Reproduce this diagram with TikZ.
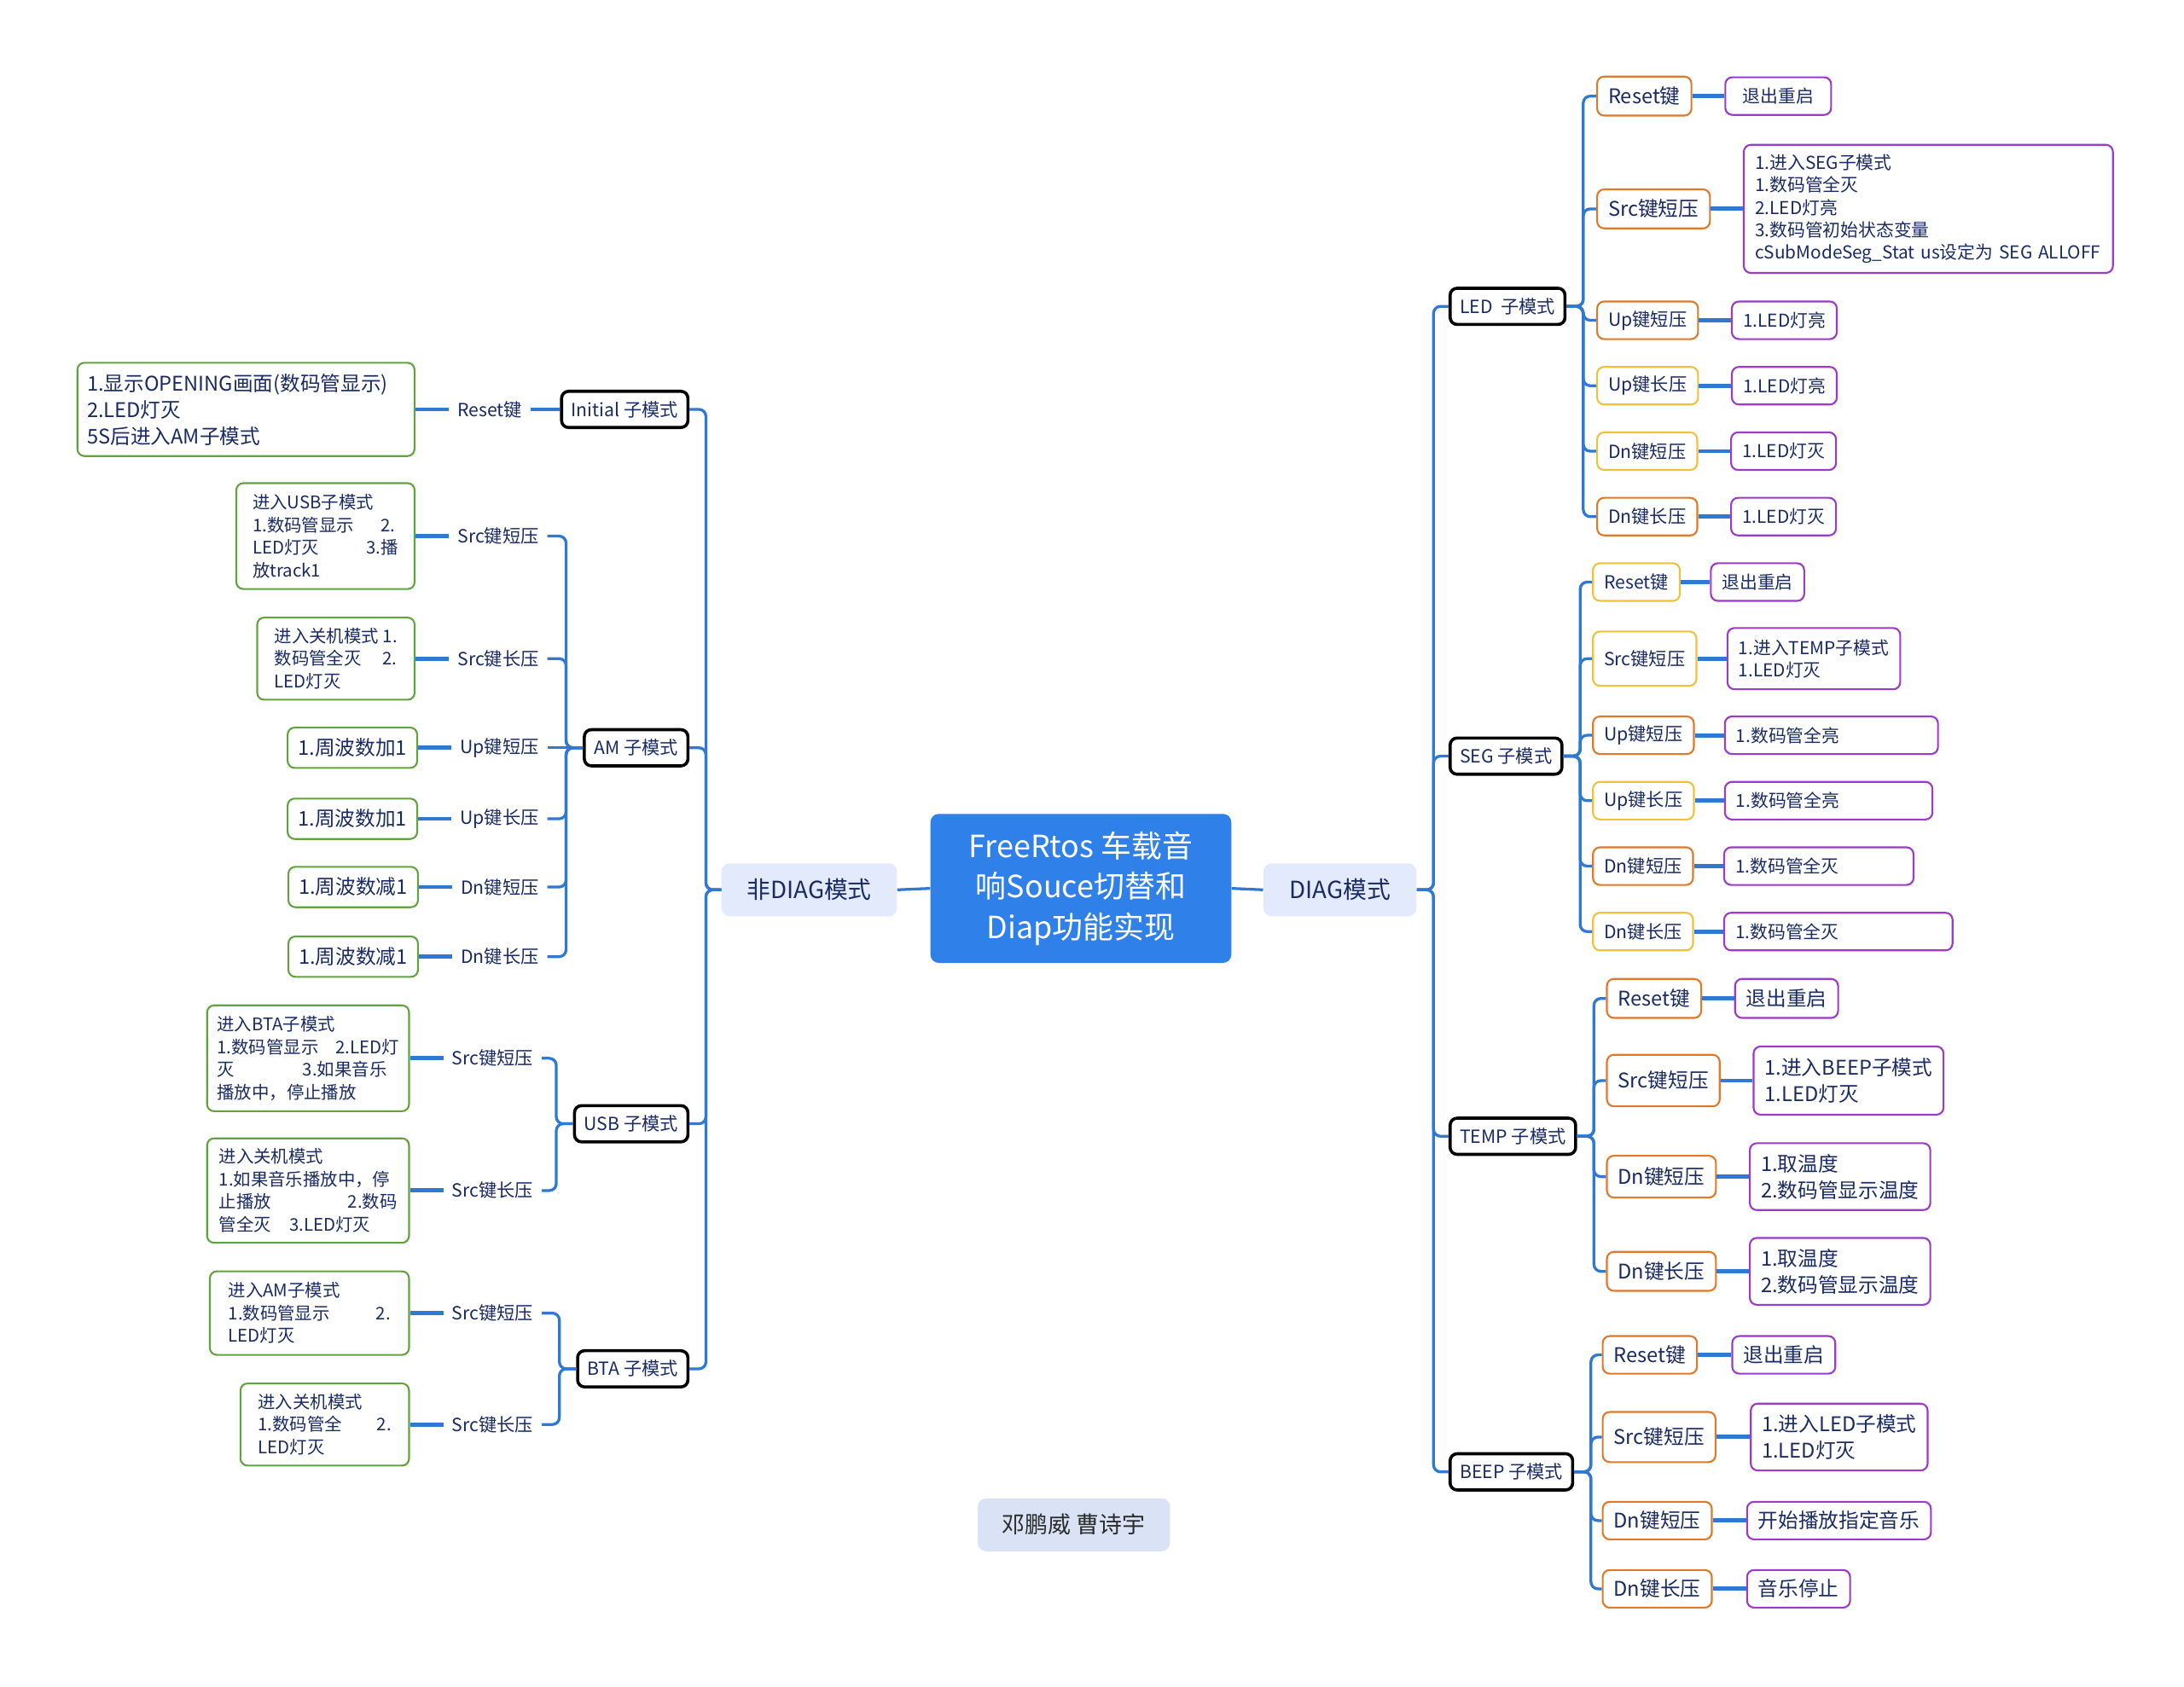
\documentclass[tikz,border=0pt]{standalone}
\usepackage{fontspec}
\setmainfont{Noto Sans CJK SC}
\usepackage{tikz}
\usetikzlibrary{positioning}
\definecolor{mmline}{HTML}{2F78D4}
\definecolor{mmroot}{HTML}{2F80E9}
\definecolor{mmmode}{HTML}{E2EAFB}
\definecolor{mmtext}{HTML}{1A2B63}
\definecolor{mmgreen}{HTML}{62A33F}
\definecolor{mmorange}{HTML}{E0792A}
\definecolor{mmyellow}{HTML}{F0C23B}
\definecolor{mmpurple}{HTML}{9C3BC9}
\definecolor{mmauth}{HTML}{D9E3F5}
\definecolor{mmgray}{HTML}{2B2B2B}
\newcommand{\fsz}[2]{\fontsize{#1}{#2}\selectfont}
\tikzset{
  lnk/.style={draw=mmline,line width=2pt,rounded corners=5pt},
  lnkk/.style={draw=mmline,line width=3pt},
}

\begin{document}
\begin{tikzpicture}[x=1pt,y=-1pt,
  root/.style={fill=mmroot,text=white,rounded corners=6pt,minimum width=216pt,minimum height=107pt,align=center,font=\fsz{22}{29}},
  mode/.style={fill=mmmode,text=mmtext,rounded corners=6pt,minimum height=38pt,font=\fsz{17}{20}},
  auth/.style={fill=mmauth,text=mmgray,rounded corners=6pt,minimum width=138pt,minimum height=38pt,font=\fsz{16.5}{20}},
  sub/.style={draw=black,line width=2.2pt,fill=white,rounded corners=5pt,inner xsep=7pt,minimum height=26pt,text=mmtext,font=\fsz{13}{16}},
  klab/.style={text=mmtext,inner xsep=6pt,inner ysep=2pt,font=\fsz{13}{16}},
  gbox/.style={draw=mmgreen,line width=1.3pt,fill=white,rounded corners=5pt,text=mmtext,align=left,inner xsep=7pt,inner ysep=4pt,font=\fsz{12.5}{16.3}},
  gbig/.style={font=\fsz{14.5}{19}},
  kbox/.style={draw=mmorange,line width=1.3pt,fill=white,rounded corners=5pt,text=mmtext,inner xsep=8pt,minimum height=27pt,font=\fsz{13}{16}},
  kboxy/.style={kbox,draw=mmyellow},
  pbox/.style={draw=mmpurple,line width=1.3pt,fill=white,rounded corners=5pt,text=mmtext,align=left,inner xsep=8pt,minimum height=27pt,font=\fsz{12.75}{16}},
  kb/.style={font=\fsz{14.5}{19}}]
  \fill[white] (0,0) rectangle (1568,1211);
  \useasboundingbox (0,0) rectangle (1568,1211);
  \node[root] (root) at (776,638) {FreeRtos 车载音\\响Souce切替和\\Diap功能实现};
  \node[mode,minimum width=110pt] (diag) at (962,639) {DIAG模式};
  \node[mode,minimum width=126pt] (ndiag) at (581,639) {非DIAG模式};
  \node[auth] (auth) at (771,1095) {邓鹏威 曹诗宇};

  \node[sub,anchor=west] (led) at (1040,220) {LED~~子模式};
  \node[sub,anchor=west] (seg) at (1040,543) {SEG 子模式};
  \node[sub,anchor=west] (temp) at (1040,816) {TEMP 子模式};
  \node[sub,anchor=west] (beep) at (1040,1057) {BEEP 子模式};
  \node[sub,anchor=east] (init) at (495,294) {Initial 子模式};
  \node[sub,anchor=east] (am) at (495,537) {AM 子模式};
  \node[sub,anchor=east] (usb) at (495,807) {USB 子模式};
  \node[sub,anchor=east] (bta) at (495,983) {BTA 子模式};

  \node[kbox,kb,anchor=west,minimum height=28pt] (l1) at (1146,69) {Reset键};
  \node[kbox,kb,anchor=west,minimum height=28pt] (l2) at (1146,150) {Src键短压};
  \node[kbox,anchor=west] (l3) at (1146,230) {Up键短压};
  \node[kboxy,anchor=west] (l4) at (1146,277) {Up键长压};
  \node[kboxy,anchor=west] (l5) at (1146,324) {Dn键短压};
  \node[kbox,anchor=west] (l6) at (1146,371) {Dn键长压};
  \node[pbox,right=23pt of l1,minimum width=76pt] (pl1) {退出重启};
  \node[pbox,right=23pt of l2,text width=249pt,minimum height=92pt] (pl2) {1.进入SEG子模式\\1.数码管全灭\\2.LED灯亮\\3.数码管初始状态变量\\cSubModeSeg\_Stat us设定为 SEG ALLOFF};
  \node[pbox,right=23pt of l3,minimum width=73pt] (pl3) {1.LED灯亮};
  \node[pbox,right=23pt of l4,minimum width=73pt] (pl4) {1.LED灯亮};
  \node[pbox,right=23pt of l5,minimum width=73pt] (pl5) {1.LED灯灭};
  \node[pbox,right=23pt of l6,minimum width=73pt] (pl6) {1.LED灯灭};

  \node[kboxy,anchor=west] (s1) at (1143,418) {Reset键};
  \node[kboxy,anchor=west,minimum height=39pt] (s2) at (1143,473) {Src键短压};
  \node[kbox,anchor=west] (s3) at (1143,528) {Up键短压};
  \node[kboxy,anchor=west] (s4) at (1143,575) {Up键长压};
  \node[kbox,anchor=west] (s5) at (1143,622) {Dn键短压};
  \node[kboxy,anchor=west] (s6) at (1143,669) {Dn键长压};
  \node[pbox,right=21pt of s1,minimum width=66pt] (ps1) {退出重启};
  \node[pbox,right=21pt of s2,text width=108pt,minimum height=44pt] (ps2) {1.进入TEMP子模式\\1.LED灯灭};
  \node[pbox,right=21pt of s3,text width=137pt] (ps3) {1.数码管全亮};
  \node[pbox,right=21pt of s4,text width=133pt] (ps4) {1.数码管全亮};
  \node[pbox,right=21pt of s5,text width=120pt] (ps5) {1.数码管全灭};
  \node[pbox,right=21pt of s6,text width=148pt] (ps6) {1.数码管全灭};

  \node[kbox,kb,anchor=west,minimum height=28pt] (t1) at (1153,717) {Reset键};
  \node[kbox,kb,anchor=west,minimum height=37pt] (t2) at (1153,776) {Src键短压};
  \node[kbox,kb,anchor=west,minimum height=30pt] (t3) at (1153,845) {Dn键短压};
  \node[kbox,kb,anchor=west,minimum height=28pt] (t4) at (1153,913) {Dn键长压};
  \node[pbox,kb,right=23pt of t1,minimum width=73pt,minimum height=28pt] (pt1) {退出重启};
  \node[pbox,kb,right=23pt of t2,minimum width=133pt,minimum height=49pt] (pt2) {1.进入BEEP子模式\\1.LED灯灭};
  \node[pbox,kb,right=23pt of t3,minimum width=127pt,minimum height=48pt] (pt3) {1.取温度\\2.数码管显示温度};
  \node[pbox,kb,right=23pt of t4,minimum width=127pt,minimum height=48pt] (pt4) {1.取温度\\2.数码管显示温度};

  \node[kbox,kb,anchor=west] (e1) at (1150,973) {Reset键};
  \node[kbox,kb,anchor=west,minimum height=36pt] (e2) at (1150,1032) {Src键短压};
  \node[kbox,kb,anchor=west] (e3) at (1150,1092) {Dn键短压};
  \node[kbox,kb,anchor=west] (e4) at (1150,1141) {Dn键长压};
  \node[pbox,kb,right=24pt of e1,minimum width=72pt] (pe1) {退出重启};
  \node[pbox,kb,right=24pt of e2,minimum width=124pt,minimum height=48pt] (pe2) {1.进入LED子模式\\1.LED灯灭};
  \node[pbox,kb,right=24pt of e3,minimum width=128pt] (pe3) {开始播放指定音乐};
  \node[pbox,kb,right=24pt of e4,minimum width=71pt] (pe4) {音乐停止};

  \node[klab,anchor=east] (r0) at (381,294) {Reset键};
  \node[gbox,gbig,left=24pt of r0,text width=228pt,minimum height=67pt] (g0) {1.显示OPENING画面(数码管显示)\\2.LED灯灭\\5S后进入AM子模式};

  \node[klab,anchor=east] (a1) at (393,385) {Src键短压};
  \node[klab,anchor=east] (a2) at (393,473) {Src键长压};
  \node[klab,anchor=east] (a3) at (393,537) {Up键短压};
  \node[klab,anchor=east] (a4) at (393,588) {Up键长压};
  \node[klab,anchor=east] (a5) at (393,637) {Dn键短压};
  \node[klab,anchor=east] (a6) at (393,687) {Dn键长压};
  \node[gbox,left=24pt of a1,minimum width=128pt,minimum height=76pt] (ga1) {进入USB子模式\\1.数码管显示\hspace{19pt}2.\\LED灯灭\hspace{34pt}3.播\\放track1};
  \node[gbox,left=24pt of a2,minimum width=113pt,minimum height=59pt] (ga2) {进入关机模式 1.\\数码管全灭\hspace{15pt}2.\\LED灯灭};
  \node[gbox,gbig,left=24pt of a3,minimum width=93pt,minimum height=29pt] (ga3) {1.周波数加1};
  \node[gbox,gbig,left=24pt of a4,minimum width=93pt,minimum height=29pt] (ga4) {1.周波数加1};
  \node[gbox,gbig,left=24pt of a5,minimum width=93pt,minimum height=29pt] (ga5) {1.周波数减1};
  \node[gbox,gbig,left=24pt of a6,minimum width=93pt,minimum height=29pt] (ga6) {1.周波数减1};

  \node[klab,anchor=east] (u1) at (389,760) {Src键短压};
  \node[klab,anchor=east] (u2) at (389,855) {Src键长压};
  \node[gbox,left=24pt of u1,minimum width=145pt,minimum height=76pt] (gu1) {进入BTA子模式\\1.数码管显示\hspace{12pt}2.LED灯\\灭\hspace{49pt}3.如果音乐\\播放中，停止播放};
  \node[gbox,left=24pt of u2,minimum width=145pt,minimum height=75pt] (gu2) {进入关机模式\\1.如果音乐播放中，停\\止播放\hspace{55pt}2.数码\\管全灭\hspace{13pt}3.LED灯灭};

  \node[klab,anchor=east] (b1) at (389,943) {Src键短压};
  \node[klab,anchor=east] (b2) at (389,1023) {Src键长压};
  \node[gbox,left=24pt of b1,minimum width=143pt,minimum height=60pt] (gb1) {进入AM子模式\\1.数码管显示\hspace{33pt}2.\\LED灯灭};
  \node[gbox,left=24pt of b2,minimum width=121pt,minimum height=59pt] (gb2) {进入关机模式\\1.数码管全\hspace{25pt}2.\\LED灯灭};

  \draw[lnk] (root.east) -- (diag.west);
  \draw[lnk] (root.west) -- (ndiag.east);
  \foreach \s in {led,seg,temp,beep} \draw[lnk] (diag.east) -- ++(12,0) |- (\s.west);
  \foreach \s in {init,am,usb,bta} \draw[lnk] (ndiag.west) -- ++(-11,0) |- (\s.east);

  \foreach \i in {1,...,6} \draw[lnk] (led.east) -- ++(12,0) |- (l\i.west);
  \foreach \i in {1,...,6} \draw[lnkk] (l\i.east) -- (pl\i.west);
  \foreach \i in {1,...,6} \draw[lnk] (seg.east) -- ++(12,0) |- (s\i.west);
  \foreach \i in {1,...,6} \draw[lnkk] (s\i.east) -- (ps\i.west);
  \foreach \i in {1,...,4} \draw[lnk] (temp.east) -- ++(12,0) |- (t\i.west);
  \foreach \i in {1,...,4} \draw[lnkk] (t\i.east) -- (pt\i.west);
  \foreach \i in {1,...,4} \draw[lnk] (beep.east) -- ++(12,0) |- (e\i.west);
  \foreach \i in {1,...,4} \draw[lnkk] (e\i.east) -- (pe\i.west);

  \draw[lnk] (init.west) -- (r0.east);
  \draw[lnkk] (r0.west) -- (g0.east);
  \foreach \i in {1,2,4,5,6} \draw[lnk] (am.west) -- ++(-12,0) |- (a\i.east);
  \draw[lnk] (am.west) -- (a3.east);
  \foreach \i in {1,...,6} \draw[lnkk] (a\i.west) -- (ga\i.east);
  \foreach \i in {1,2} \draw[lnk] (usb.west) -- ++(-12,0) |- (u\i.east);
  \foreach \i in {1,2} \draw[lnkk] (u\i.west) -- (gu\i.east);
  \foreach \i in {1,2} \draw[lnk] (bta.west) -- ++(-12,0) |- (b\i.east);
  \foreach \i in {1,2} \draw[lnkk] (b\i.west) -- (gb\i.east);
\end{tikzpicture}
\end{document}
